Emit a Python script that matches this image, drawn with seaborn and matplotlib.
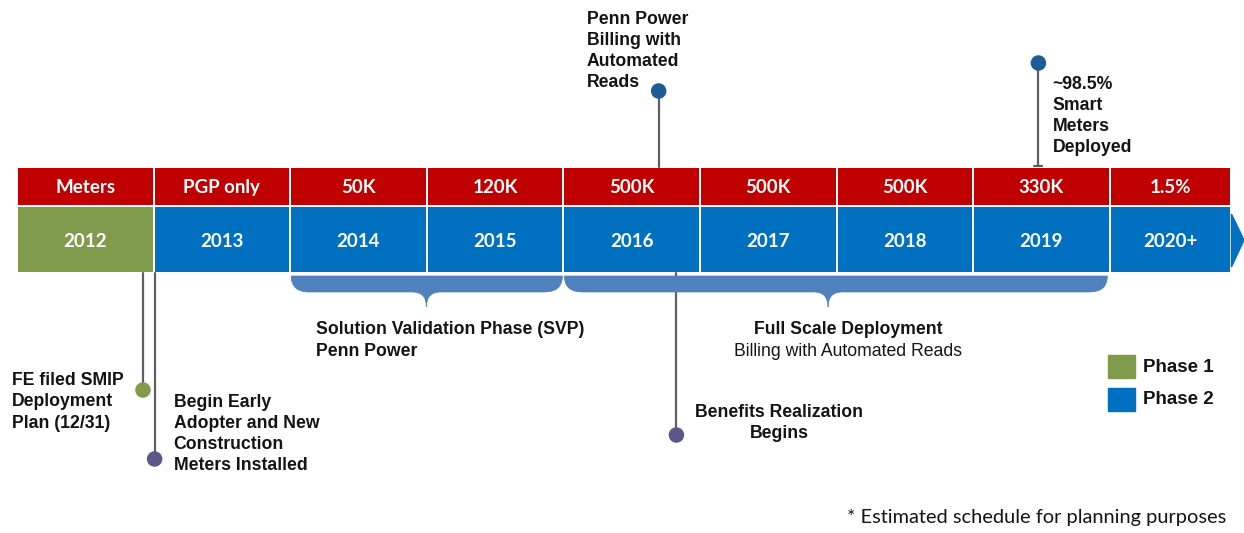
import numpy as np
import pandas as pd
import matplotlib.pyplot as plt
import seaborn as sns
from matplotlib.patches import Rectangle, Polygon, PathPatch
from matplotlib.path import Path

# Timeline data
years = ["2012", "2013", "2014", "2015", "2016", "2017", "2018", "2019", "2020+"]
meters = ["Meters", "PGP only", "50K", "120K", "500K", "500K", "500K", "330K", "1.5%"]
phase = [1, 2, 2, 2, 2, 2, 2, 2, 2]

# Milestones (position on the timeline in years)
ms_text = [
    "FE filed SMIP\nDeployment\nPlan (12/31)",
    "Begin Early\nAdopter and New\nConstruction\nMeters Installed",
    "Penn Power\nBilling with\nAutomated\nReads",
    "Benefits Realization\nBegins",
    "~98.5%\nSmart\nMeters\nDeployed",
]
ms_pos = [2012.915, 2013.0, 2016.69, 2016.82, 2019.47]
ms_kind = ["p1", "p2", "billing", "p2", "billing"]

# Phase braces
brace_start = [2014.0, 2016.0]
brace_end = [2015.985, 2019.975]
brace_title = ["Solution Validation Phase (SVP)", "Full Scale Deployment"]
brace_sub = ["Penn Power", "Billing with Automated Reads"]

RED = "#C00000"
BLUE = "#0070C0"
GREEN = "#7F9B4B"
BRACE = "#4F81BD"
STEM = "#5F5F5F"
TXT = "#141414"
dot_pal = {"p1": "#7F9B4B", "p2": "#5A5889", "billing": "#1F5C96"}

sns.set_theme(style="white")
plt.rcParams["font.family"] = ["Liberation Sans", "DejaVu Sans"]

PX = 136.6  # pixels per year
def yr(px):
    return 2012 + (px - 18) / PX

fig = plt.figure(figsize=(12.44, 5.33), dpi=100)
ax = fig.add_axes([0, 0, 1, 1])
ax.set_xlim(yr(0), yr(1244))
ax.set_ylim(533, 0)
ax.axis("off")

# cells
starts = 2012 + np.arange(len(years))
widths = np.array([0.985] * (len(years) - 1) + [0.873])
cell_col = [GREEN if p == 1 else BLUE for p in phase]
ax.bar(starts, 37, width=widths, bottom=168, align="edge", color=RED,
       edgecolor="white", linewidth=0, zorder=2)
ax.bar(starts, 65, width=widths, bottom=207, align="edge", color=cell_col,
       edgecolor="white", linewidth=0, zorder=2)
end = starts[-1] + widths[-1]
ax.add_patch(Polygon([(end + 0.01, 214), (end + 0.01, 267), (yr(1244), 240)],
                     closed=True, color=BLUE, zorder=2))
for s, w, m, y in zip(starts, widths, meters, years):
    ax.text(s + w / 2, 193, m, ha="center", va="baseline", color="white",
            fontsize=13.5, fontweight="bold", family="Lato", zorder=3)
    ax.text(s + w / 2, 247, y, ha="center", va="baseline", color="white",
            fontsize=13.5, fontweight="bold", family="Lato", zorder=3)

# braces
yt, yb, ytip = 276, 292, 307
r, t = 18 / PX, 14 / PX
brace_tip = [2014.99, 2017.93]
for x0, x1, cx in zip(brace_start, brace_end, brace_tip):
    verts = [(x0, yt), (x1, yt), (x1, yb), (x1 - r, yb), (cx + t, yb),
             (cx, yb), (cx, ytip), (cx, yb), (cx - t, yb), (x0 + r, yb),
             (x0, yb), (x0, yt), (x0, yt)]
    codes = [Path.MOVETO, Path.LINETO, Path.CURVE3, Path.CURVE3, Path.LINETO,
             Path.CURVE3, Path.CURVE3, Path.CURVE3, Path.CURVE3, Path.LINETO,
             Path.CURVE3, Path.CURVE3, Path.CLOSEPOLY]
    ax.add_patch(PathPatch(Path(verts, codes), facecolor=BRACE, edgecolor=BRACE,
                           linewidth=0.5, zorder=4))

ax.text(yr(316), 330, brace_title[0], ha="left", va="center", color=TXT,
        fontsize=12.7, fontweight="bold")
ax.text(yr(316), 351, brace_sub[0], ha="left", va="center", color=TXT,
        fontsize=12.7, fontweight="bold")
ax.text(yr(848), 330, brace_title[1], ha="center", va="center", color=TXT,
        fontsize=12.7, fontweight="bold")
ax.text(yr(848), 351, brace_sub[1], ha="center", va="center", color=TXT,
        fontsize=12.7)

# milestones: stems, dots, labels
dot_y = [390, 459, 91, 435, 63]
stem_y = [(273, 390), (273, 459), (91, 167), (273, 435), (63, 166)]
txt_dx = [-131, 19, -72, 103, 14]
txt_y = [402, 434, 51, 423, 116]
txt_ha = ["left", "left", "left", "center", "left"]
for p, (a, b) in zip(ms_pos, stem_y):
    ax.plot([p, p], [a, b], color=STEM, linewidth=1.6, zorder=1)
ax.plot([ms_pos[4] - 4 / PX, ms_pos[4] + 4 / PX], [166, 166], color=STEM,
        linewidth=1.6, zorder=1)
ms = pd.DataFrame({"pos": ms_pos, "y": dot_y, "kind": ms_kind})
sns.scatterplot(data=ms, x="pos", y="y", hue="kind", palette=dot_pal, s=125,
                linewidth=0, legend=False, ax=ax, zorder=5)
for p, s, dx, ty, ha in zip(ms_pos, ms_text, txt_dx, txt_y, txt_ha):
    ax.text(p + dx / PX, ty, s, ha=ha, va="center", multialignment=ha,
            color=TXT, fontsize=12.7, fontweight="bold", linespacing=1.33)

# legend
for i, (lab, col) in enumerate([("Phase 1", GREEN), ("Phase 2", BLUE)]):
    ax.add_patch(Rectangle((yr(1108), 355 + 33 * i), 27 / PX, 23, color=col))
    ax.text(yr(1143), 367 + 32 * i, lab, ha="left", va="center", color=TXT,
            fontsize=13.5, fontweight="bold")

ax.text(yr(847), 518, "* Estimated schedule for planning purposes", ha="left",
        va="center", color=TXT, fontsize=14.4, family="Lato")

fig.savefig("out.png", dpi=100)
